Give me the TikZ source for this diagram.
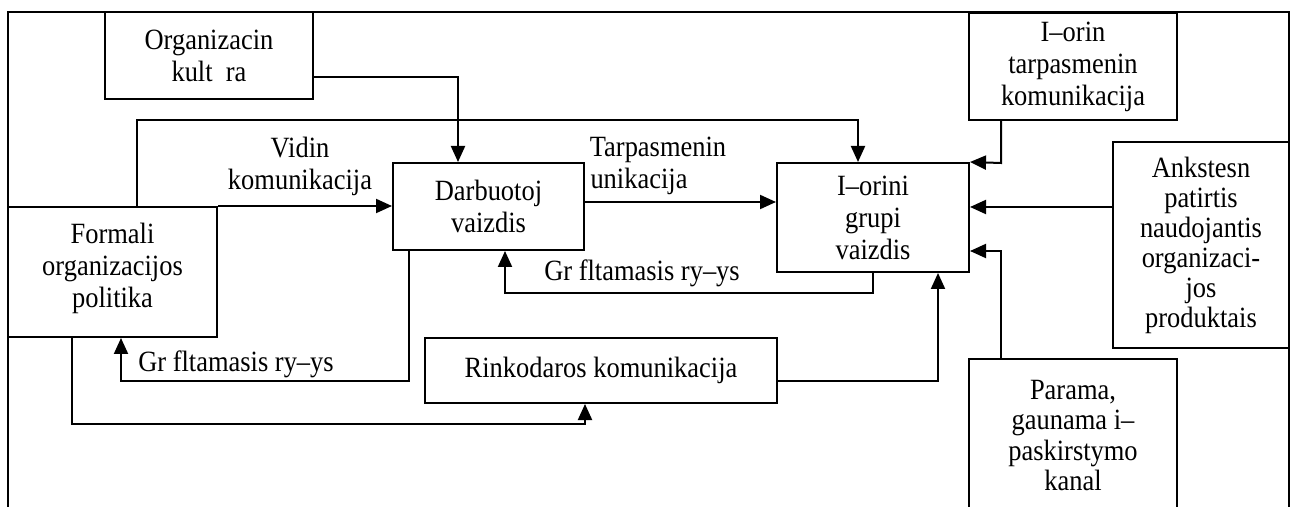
\documentclass[tikz,border=0pt]{standalone}
\usepackage{fontspec}
\setmainfont{Liberation Serif}[FakeStretch=0.9]
\usetikzlibrary{arrows.meta}
\begin{document}
\begin{tikzpicture}[x=0.5pt,y=-0.5pt,
  box/.style={draw, line width=1pt, fill=white, align=center, inner sep=0pt,
              font=\fontsize{14.7}{16}\selectfont},
  lbl/.style={align=center, inner sep=0pt, font=\fontsize{14.7}{16}\selectfont},
  link/.style={line width=1pt},
  arr/.style={link, -{Triangle[length=8pt,width=7pt]}}]
\useasboundingbox (0,0) rectangle (1295,507);
\clip (0,0) rectangle (1295,507);

% outer frame (open at the bottom)
\draw[link] (8,512) -- (8,12) -- (1289,12) -- (1289,512);

% boxes
\node[box, minimum width=104pt, minimum height=43.5pt] (kult) at (209,55.5)
  {Organizacin\\kult\ \ ra};
\node[box, minimum width=95.5pt, minimum height=43.5pt] (darb) at (488.5,206.5)
  {Darbuotoj\\vaizdis};
\node[box, minimum width=96pt, minimum height=54.5pt] (iori) at (873,217.5)
  {I–orini\\grupi\\vaizdis};
\node[box, minimum width=104.5pt, minimum height=65pt] (form) at (112.5,272)
  {Formali\\organizacijos\\politika\\[-9pt]\mbox{}};
\node[box, minimum width=176pt, minimum height=32.5pt] (rink) at (601,370.5)
  {Rinkodaros komunikacija};
\node[box, minimum width=104pt, minimum height=53.5pt] (iotp) at (1073,66.5)
  {I–orin\\tarpasmenin\\komunikacija};
\node[box, minimum width=88pt, minimum height=103pt, font=\fontsize{14.7}{15}\selectfont]
  (ank) at (1201,245)
  {Ankstesn\\patirtis\\naudojantis\\organizaci-\\jos\\produktais};
\node[box, minimum width=104pt, minimum height=76.5pt, font=\fontsize{14.7}{15.2}\selectfont]
  (param) at (1073,435.5)
  {Parama,\\gaunama i–\\paskirstymo\\kanal};

% connector labels
\node[lbl] (lvid) at (300,166) {Vidin\\komunikacija};
\node[lbl] (ltarp) at (658,150) {Tarpasmenin};
\node[lbl] (lkom) at (639,181) {unikacija};
\node[lbl] (lgr1) at (642,273) {Gr fltamasis ry–ys};
\node[lbl] (lgr2) at (236,364) {Gr fltamasis ry–ys};

% connectors
\draw[arr] (kult.east |- 0,77) -| (darb.north -| 458,0);
\draw[arr] (form.north -| 137,0) -- (137,120) -| (iori.north -| 858,0);
\draw[arr] (form.north east) -- (form.north east -| darb.west);
\draw[arr] (darb.east |- 0,202) -- (iori.west |- 0,202);
\draw[arr] (iori.south) -- (873,293) -| (darb.south -| 505,0);
\draw[arr] (darb.south -| 409,0) -- (409,381) -| (form.south -| 121,0);
\draw[arr] (form.south -| 72,0) -- (72,424) -| (rink.south -| 585,0);
\draw[arr] (rink.east |- 0,381) -| (iori.south -| 938,0);
\draw[arr] (iotp.south -| 1001,0) -- (1001,163) -- (iori.north east);
\draw[arr] (ank.west |- 0,207) -- (iori.east |- 0,207);
\draw[arr] (param.north -| 1001,0) -- (1001,251) -- (iori.east |- 0,251);
\end{tikzpicture}
\end{document}
